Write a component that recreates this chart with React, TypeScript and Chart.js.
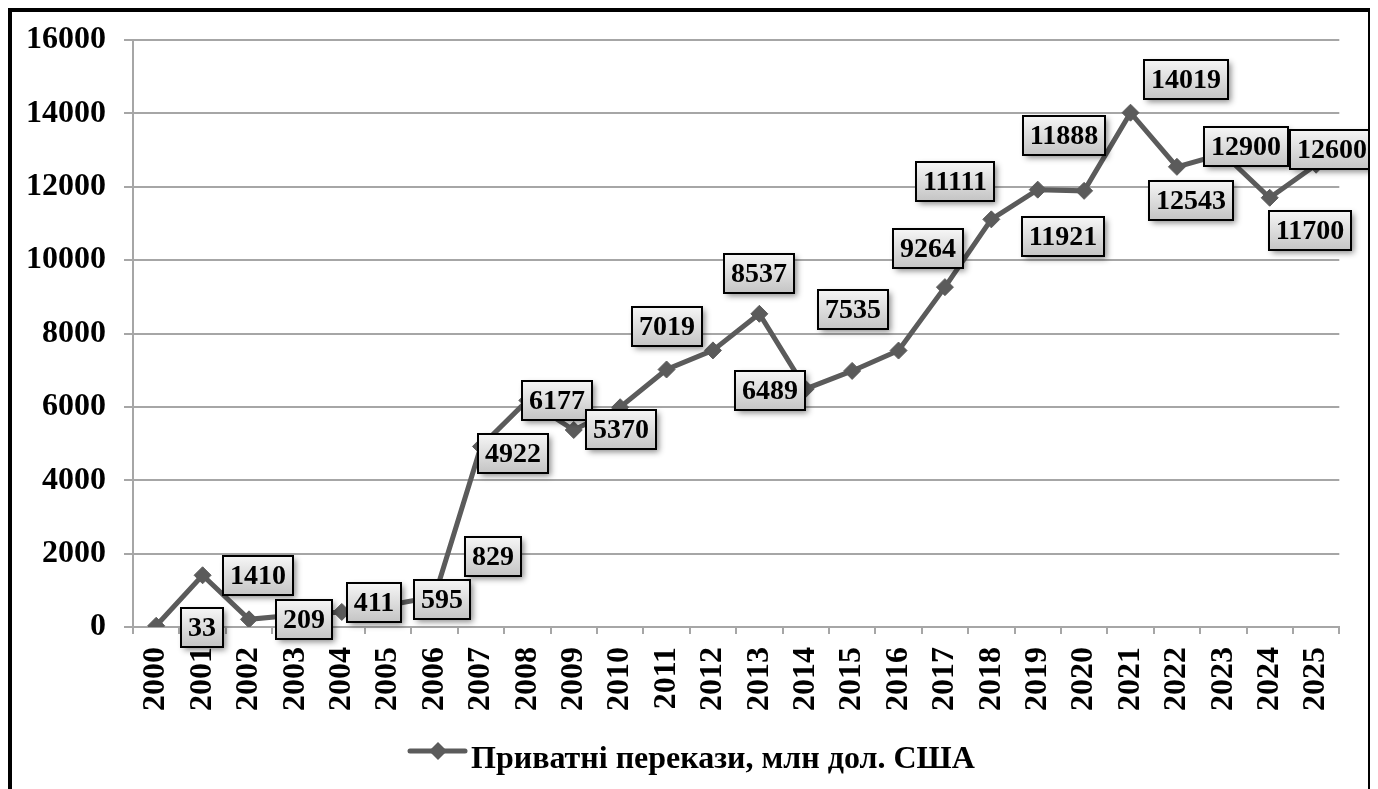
import { useEffect, useRef } from 'react';
import { Chart, registerables } from 'chart.js';

Chart.register(...registerables);

const years = ['2000', '2001', '2002', '2003', '2004', '2005', '2006', '2007', '2008', '2009', '2010', '2011', '2012', '2013', '2014', '2015', '2016', '2017', '2018', '2019', '2020', '2021', '2022', '2023', '2024', '2025'];
const remittances = [33, 1410, 209, 330, 411, 595, 829, 4922, 6177, 5370, 5990, 7019, 7540, 8537, 6489, 6980, 7535, 9264, 11111, 11921, 11888, 14019, 12543, 12900, 11700, 12600];
const seriesLabel = 'Приватні перекази, млн дол. США';
const yMin = 0;
const yMax = 16000;
const yStep = 2000;

// placement of each boxed data label relative to its point (null = no label)
const labelOffsets: ([number, number] | null)[] = [
  [46, 2], [55, 0], [55, 0], null, [32, -9], [54, -6], [58, -40], [32, 7], [30, 0], [47, 0],
  null, [0, -43], null, [0, -40], [-36, 2], null, [-46, -41], [-17, -39], [-36, -38], [25, 47],
  [-20, -55], [55, -33], [14, 34], [23, -7], [40, 33], [16, -15],
];

const FONT = "'Liberation Serif', 'Times New Roman', serif";
const LINE = '#5b5b5b';
const GRID = '#a6a6a6';

const boxLabels = {
  id: 'boxLabels',
  afterDatasetsDraw(chart: any) {
    const ctx = chart.ctx as CanvasRenderingContext2D;
    const meta = chart.getDatasetMeta(0);
    ctx.save();
    ctx.font = `bold 28px ${FONT}`;
    meta.data.forEach((pt: any, i: number) => {
      const off = labelOffsets[i];
      if (!off) return;
      const text = String(remittances[i]);
      const tw = ctx.measureText(text).width;
      const w = Math.round(tw + 14);
      const h = 39;
      const cx = pt.x + off[0];
      const cy = pt.y + off[1];
      const x = Math.round(cx - w / 2);
      const y = Math.round(cy - h / 2);
      const g = ctx.createLinearGradient(0, y, 0, y + h);
      g.addColorStop(0, '#f6f6f6');
      g.addColorStop(1, '#c4c4c4');
      ctx.shadowColor = 'rgba(0,0,0,0.45)';
      ctx.shadowBlur = 6;
      ctx.shadowOffsetX = 3;
      ctx.shadowOffsetY = 3;
      ctx.fillStyle = g;
      ctx.fillRect(x, y, w, h);
      ctx.shadowColor = 'transparent';
      ctx.shadowBlur = 0;
      ctx.shadowOffsetX = 0;
      ctx.shadowOffsetY = 0;
      ctx.lineWidth = 2;
      ctx.strokeStyle = '#000';
      ctx.strokeRect(x, y, w, h);
      ctx.fillStyle = '#000';
      ctx.textAlign = 'center';
      ctx.textBaseline = 'middle';
      ctx.fillText(text, x + w / 2, y + h / 2 + 1);
    });
    ctx.restore();
  },
};

const customLegend = {
  id: 'customLegend',
  afterDraw(chart: any) {
    const ctx = chart.ctx as CanvasRenderingContext2D;
    const lx = 398;
    const ly = 739;
    ctx.save();
    ctx.strokeStyle = LINE;
    ctx.lineWidth = 5;
    ctx.lineCap = 'round';
    ctx.beginPath();
    ctx.moveTo(lx, ly);
    ctx.lineTo(lx + 55, ly);
    ctx.stroke();
    const dx = lx + 28;
    const r = 9;
    ctx.fillStyle = LINE;
    ctx.beginPath();
    ctx.moveTo(dx, ly - r);
    ctx.lineTo(dx + r, ly);
    ctx.lineTo(dx, ly + r);
    ctx.lineTo(dx - r, ly);
    ctx.closePath();
    ctx.fill();
    ctx.fillStyle = '#000';
    ctx.font = `bold 32px ${FONT}`;
    ctx.textAlign = 'left';
    ctx.textBaseline = 'alphabetic';
    ctx.fillText(seriesLabel, lx + 61, 756);
    ctx.restore();
  },
};

export default function App() {
  const ref = useRef<HTMLCanvasElement | null>(null);

  useEffect(() => {
    document.documentElement.style.overflow = 'hidden';
    if (!ref.current) return;
    const chart = new Chart(ref.current, {
      type: 'line',
      data: {
        labels: years,
        datasets: [
          {
            label: seriesLabel,
            data: remittances,
            borderColor: LINE,
            backgroundColor: LINE,
            borderWidth: 5,
            pointStyle: 'rectRot',
            pointRadius: 8.5,
            pointBorderWidth: 1,
            pointBackgroundColor: LINE,
            pointBorderColor: LINE,
            tension: 0,
          },
        ],
      },
      options: {
        responsive: false,
        animation: false,
        layout: { padding: { top: 28, right: 26, left: 0, bottom: 0 } },
        plugins: {
          legend: { display: false },
          tooltip: { enabled: false },
        },
        scales: {
          x: {
            offset: true,
            grid: {
              display: true,
              offset: true,
              drawOnChartArea: false,
              drawTicks: true,
              tickLength: 7,
              color: GRID,
              lineWidth: 2,
            },
            border: { display: true, color: GRID, width: 2 },
            ticks: {
              autoSkip: false,
              maxRotation: 90,
              minRotation: 90,
              padding: 13,
              color: '#000',
              font: { family: FONT, weight: 'bold', size: 32 },
            },
            afterFit(scale: any) {
              scale.height = 167;
            },
          },
          y: {
            min: yMin,
            max: yMax,
            ticks: {
              stepSize: yStep,
              padding: 18,
              color: '#000',
              font: { family: FONT, weight: 'bold', size: 32 },
              callback: (v: any) => String(v),
            },
            grid: { color: GRID, lineWidth: 2, tickLength: 9 },
            border: { display: true, color: GRID, width: 2 },
            afterFit(scale: any) {
              scale.width = 121;
              scale.paddingTop = 0;
              scale.paddingBottom = 0;
            },
          },
        },
      },
      plugins: [boxLabels, customLegend],
    } as any);
    return () => chart.destroy();
  }, []);

  return (
    <div
      style={{
        width: 1364,
        height: 790,
        border: '4px solid #000',
        boxSizing: 'border-box',
        overflow: 'hidden',
        background: '#fff',
      }}
    >
      <canvas ref={ref} width={1356} height={782} style={{ display: 'block', width: 1356, height: 782 }} />
    </div>
  );
}
